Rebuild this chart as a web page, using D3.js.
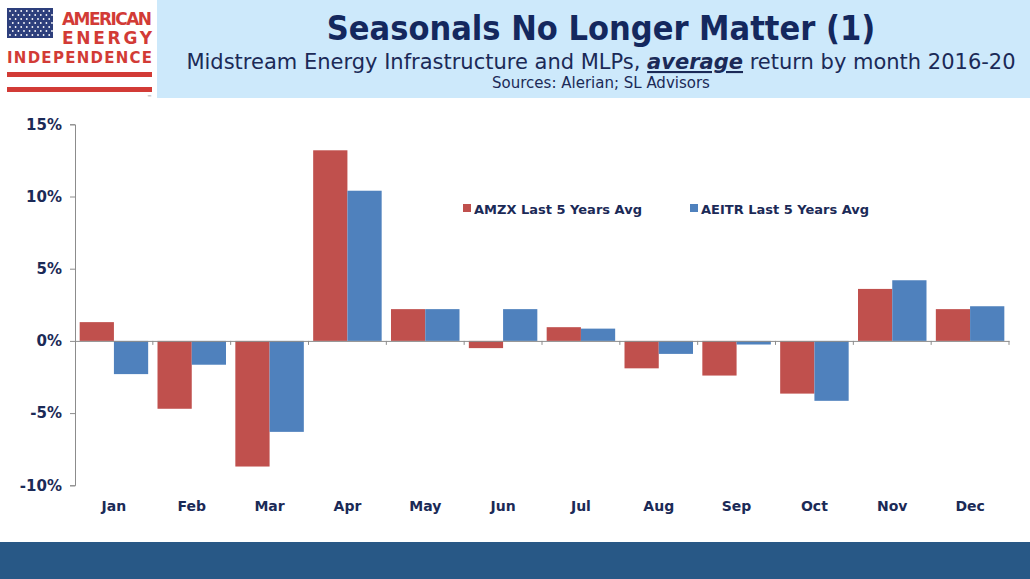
<!DOCTYPE html>
<html>
<head>
<meta charset="utf-8">
<script src="https://cdnjs.cloudflare.com/ajax/libs/d3/7.8.5/d3.min.js"></script>
<style>
  body { margin: 0; background: #fff; }
  svg { display: block; }
</style>
</head>
<body>
<div id="chart"></div>
<script>
// data
var months = ["Jan", "Feb", "Mar", "Apr", "May", "Jun", "Jul", "Aug", "Sep", "Oct", "Nov", "Dec"];
var seriesNames = ["AMZX Last 5 Years Avg", "AEITR Last 5 Years Avg"];
var amzx = [1.3, -4.7, -8.7, 13.2, 2.2, -0.5, 0.95, -1.9, -2.4, -3.65, 3.6, 2.2];
var aeitr = [-2.3, -1.65, -6.3, 10.4, 2.2, 2.2, 0.85, -0.9, -0.25, -4.15, 4.2, 2.4];
var yTicks = [-10, -5, 0, 5, 10, 15];
var colours = ["#c0504d", "#4f81bd"];

var w = 1030, h = 579;
var navy = "#1b2a57";
var svg = d3.select("#chart").append("svg")
    .attr("width", w)
    .attr("height", h);

// header band
svg.append("rect")
    .attr("x", 157).attr("y", 0)
    .attr("width", w - 157).attr("height", 98)
    .attr("fill", "#cde9fb");

svg.append("text")
    .attr("x", 601).attr("y", 40)
    .attr("text-anchor", "middle")
    .attr("font-family", "DejaVu Sans Condensed, DejaVu Sans")
    .attr("font-weight", "bold")
    .attr("font-size", "34px")
    .attr("fill", "#14285e")
    .text("Seasonals No Longer Matter (1)");

var sub = svg.append("text")
    .attr("x", 601).attr("y", 69)
    .attr("text-anchor", "middle")
    .attr("font-family", "DejaVu Sans")
    .attr("font-size", "21px")
    .attr("fill", navy);
sub.append("tspan").text("Midstream Energy Infrastructure and MLPs, ");
sub.append("tspan")
    .attr("font-weight", "bold")
    .attr("font-style", "italic")
    .attr("text-decoration", "underline")
    .text("average");
sub.append("tspan").text(" return by month 2016-20");

svg.append("text")
    .attr("x", 601).attr("y", 88)
    .attr("text-anchor", "middle")
    .attr("font-family", "DejaVu Sans")
    .attr("font-size", "15px")
    .attr("fill", navy)
    .text("Sources: Alerian; SL Advisors");

// logo
var logo = svg.append("g");
logo.append("rect")
    .attr("x", 7).attr("y", 8)
    .attr("width", 46).attr("height", 30)
    .attr("fill", "#2d3f7c");
for (var r = 0; r < 7; r++) {
    for (var c = 0; c < 8; c++) {
        logo.append("circle")
            .attr("cx", 10 + c * 5.6 + (r % 2) * 2.8)
            .attr("cy", 11 + r * 4)
            .attr("r", 0.9)
            .attr("fill", "#ffffff");
    }
}
var logoRed = "#d23b36";
logo.append("text")
    .attr("x", 152).attr("y", 25)
    .attr("text-anchor", "end")
    .attr("font-family", "DejaVu Sans")
    .attr("font-weight", "bold")
    .attr("font-size", "17px")
    .attr("textLength", 90)
    .attr("fill", logoRed)
    .text("AMERICAN");
logo.append("text")
    .attr("x", 152).attr("y", 44)
    .attr("text-anchor", "end")
    .attr("font-family", "DejaVu Sans")
    .attr("font-weight", "bold")
    .attr("font-size", "17px")
    .attr("textLength", 90)
    .attr("lengthAdjust", "spacing")
    .attr("fill", logoRed)
    .text("ENERGY");
logo.append("text")
    .attr("x", 7).attr("y", 63)
    .attr("font-family", "DejaVu Sans")
    .attr("font-weight", "bold")
    .attr("font-size", "15px")
    .attr("textLength", 145)
    .attr("fill", logoRed)
    .text("INDEPENDENCE");
logo.append("rect")
    .attr("x", 7).attr("y", 72)
    .attr("width", 145).attr("height", 5)
    .attr("fill", logoRed);
logo.append("rect")
    .attr("x", 7).attr("y", 87)
    .attr("width", 145).attr("height", 5)
    .attr("fill", logoRed);
logo.append("text")
    .attr("x", 147).attr("y", 99)
    .attr("font-family", "DejaVu Sans")
    .attr("font-size", "5px")
    .attr("fill", "#777")
    .text("™");

// footer band
svg.append("rect")
    .attr("x", 0).attr("y", 542)
    .attr("width", w).attr("height", h - 542)
    .attr("fill", "#285886");

// scales
var xScale = d3.scaleBand()
    .domain(months)
    .range([75, 1009])
    .paddingInner(0.12)
    .paddingOuter(0.06);

var xInner = d3.scaleBand()
    .domain([0, 1])
    .range([0, xScale.bandwidth()]);

var yScale = d3.scaleLinear()
    .domain([-10, 15])
    .range([485.3, 124.3]);

var rows = months.map(function(m, i) {
    return { month: m, values: [amzx[i], aeitr[i]] };
});

// bars
var groups = svg.selectAll("g.month")
    .data(rows)
    .enter()
    .append("g")
    .attr("class", "month")
    .attr("transform", function(d) {
        return "translate(" + xScale(d.month) + ",0)";
    });

groups.selectAll("rect")
    .data(function(d) { return d.values; })
    .enter()
    .append("rect")
    .attr("x", function(d, i) { return xInner(i); })
    .attr("y", function(d) { return yScale(Math.max(0, d)); })
    .attr("width", xInner.bandwidth())
    .attr("height", function(d) { return Math.abs(yScale(d) - yScale(0)); })
    .attr("fill", function(d, i) { return colours[i]; });

// y axis
var yAxis = d3.axisLeft(yScale)
    .tickValues(yTicks)
    .tickSize(5)
    .tickPadding(8)
    .tickFormat(function(d) { return d + "%"; });

var gy = svg.append("g")
    .attr("transform", "translate(75,0)")
    .call(yAxis);
gy.select(".domain").attr("stroke", "#8c8c8c");
gy.selectAll(".tick line").attr("stroke", "#8c8c8c");
gy.selectAll("text")
    .attr("font-family", "DejaVu Sans")
    .attr("font-weight", "bold")
    .attr("font-size", "15px")
    .attr("fill", navy);

// x axis along zero line, ticks between categories
var step = xScale.step();
var xAxis = d3.axisBottom(xScale)
    .tickSize(0)
    .tickSizeOuter(0)
    .tickPadding(0);

var gx = svg.append("g")
    .attr("transform", "translate(0," + yScale(0) + ")")
    .call(xAxis);
gx.select(".domain").attr("stroke", "#8c8c8c");
gx.selectAll(".tick text")
    .attr("y", 511 - yScale(0))
    .attr("dy", 0)
    .attr("font-family", "DejaVu Sans")
    .attr("font-weight", "bold")
    .attr("font-size", "14px")
    .attr("fill", navy);

gx.selectAll("line.sep")
    .data(months)
    .enter()
    .append("line")
    .attr("class", "sep")
    .attr("x1", function(d) { return xScale(d) - step * xScale.paddingInner() / 2 + step; })
    .attr("x2", function(d) { return xScale(d) - step * xScale.paddingInner() / 2 + step; })
    .attr("y1", 0)
    .attr("y2", 4)
    .attr("stroke", "#8c8c8c");

// legend
var legend = svg.append("g")
    .attr("font-family", "DejaVu Sans")
    .attr("font-weight", "bold")
    .attr("font-size", "13px")
    .attr("fill", navy);
var legendX = [463, 690];
seriesNames.forEach(function(name, i) {
    legend.append("rect")
        .attr("x", legendX[i]).attr("y", 204)
        .attr("width", 8).attr("height", 8)
        .attr("fill", colours[i]);
    legend.append("text")
        .attr("x", legendX[i] + 11).attr("y", 213.5)
        .text(name);
});
</script>
</body>
</html>
